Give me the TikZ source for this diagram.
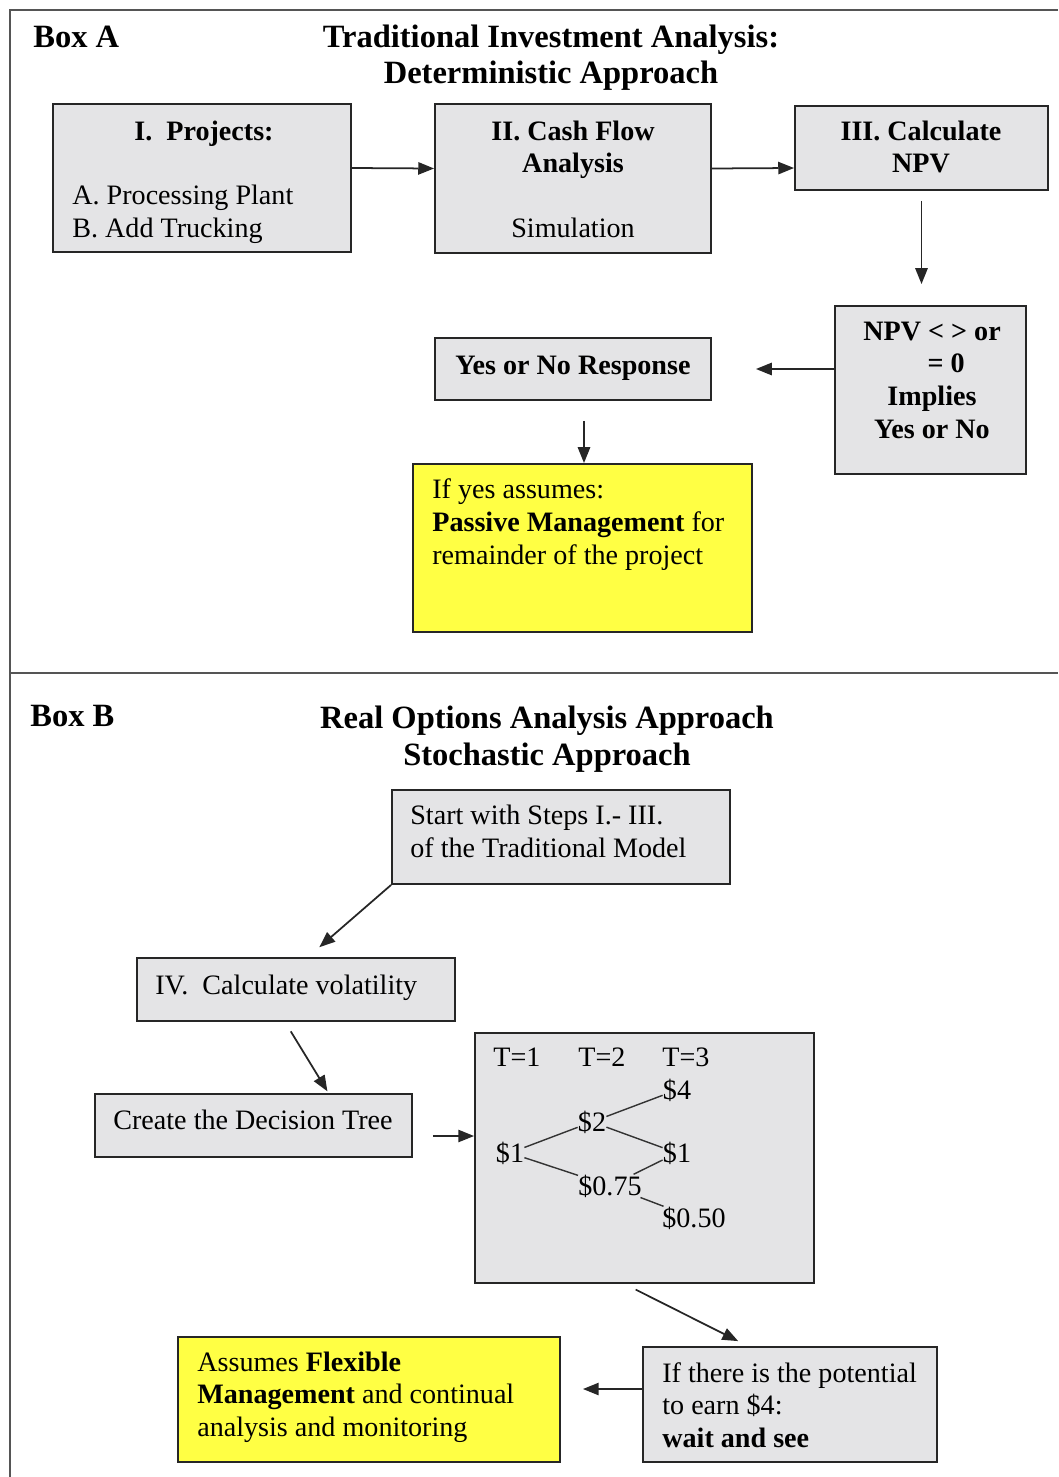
\documentclass[tikz,border=0pt]{standalone}
\usepackage{fontspec}
\setmainfont{Liberation Serif}
\usetikzlibrary{arrows.meta,positioning}
\definecolor{boxGray}   {RGB}{228,228,230}
\definecolor{noteYellow}{RGB}{255,255,68}
\definecolor{frameGray} {RGB}{85, 85, 85}
\newcommand{\bodyfont}{\fontsize{16}{18.5}\selectfont}
\newcommand{\headfont}{\fontsize{18.5}{20.5}\selectfont\bfseries}

\begin{document}
\begin{tikzpicture}[x=0.02cm,y=-0.02cm,
    gbox/.style={draw=black!85,line width=1.1pt,fill=boxGray,inner sep=0pt},
    ybox/.style={gbox,fill=noteYellow},
    txt/.style={font=\bodyfont,inner sep=0pt,align=left},
    btxt/.style={font=\bodyfont\bfseries,inner sep=0pt,align=center},
    htxt/.style={font=\headfont,inner sep=0pt,align=center},
    arr/.style={-{Triangle[length=9pt,width=7pt]},line width=1pt,black!85}]
        \useasboundingbox (0,0) rectangle (1058,1477);

        % frame
        \draw[frameGray,line width=1pt] (1058,10) -- (10,10) -- (10,1477);
        \draw[frameGray,line width=1pt] (10,673) -- (1058,673);

        % Box A
        \node[htxt,anchor=base west] (boxA) at (33,48) {Box A};
        \node[htxt,anchor=base] (titleA) at (551,84)
          {Traditional Investment Analysis:\\Deterministic Approach};

        \node[gbox,minimum width=5.96cm,minimum height=2.96cm] (proj) at (202,178) {};
        \node[btxt,anchor=base] (projHead) at (204,140) {I.~~Projects:};
        \node[txt,anchor=base west] (projList) at (72,237.5)
          {A. Processing Plant\\B. Add Trucking};

        \node[gbox,minimum width=5.52cm,minimum height=2.98cm] (cash) at (573,178.5) {};
        \node[btxt,anchor=base] (cashHead) at (573,173) {II. Cash Flow\\Analysis};
        \node[txt,anchor=base] (cashSim) at (573,237) {Simulation};

        \node[gbox,minimum width=5.06cm,minimum height=1.68cm] (npv) at (921.5,148) {};
        \node[btxt,anchor=base] (npvText) at (921,173) {III. Calculate\\NPV};

        \node[gbox,minimum width=3.82cm,minimum height=3.36cm] (npvq) at (930.5,390) {};
        \node[btxt,anchor=base] (npvqText) at (932,438)
          {NPV < > or\\\quad= 0\\Implies\\Yes or No};

        \node[gbox,minimum width=5.52cm,minimum height=1.24cm] (yesno) at (573,369) {};
        \node[btxt,anchor=base] (yesnoText) at (573,374) {Yes or No Response};

        \node[ybox,minimum width=6.78cm,minimum height=3.36cm] (passive) at (582.5,548) {};
        \node[txt,anchor=base west] (passiveText) at (432,564)
          {If yes assumes:\\\textbf{Passive Management} for\\remainder of the project};

        \draw[arr] ([yshift=0.2cm]proj.east) -- ([yshift=0.2cm]cash.west);
        \draw[arr] ([yshift=0.2cm]cash.east) -- ([yshift=-0.4cm]npv.west);
        \draw[arr,shorten <=0.2cm,shorten >=0.42cm] (npv.south) -- (npv.south |- npvq.north);
        \draw[arr,shorten >=0.88cm] (npvq.west |- yesno) -- (yesno);
        \draw[arr,shorten <=0.4cm] ([xshift=0.22cm]yesno.south)
          -- ([xshift=0.22cm]yesno.south |- passive.north);

        % Box B
        \node[htxt,anchor=base west] (boxB) at (30,726) {Box B};
        \node[htxt,anchor=base] (titleB) at (547,765)
          {Real Options Analysis Approach\\Stochastic Approach};

        \node[gbox,minimum width=6.76cm,minimum height=1.88cm] (start) at (561,837) {};
        \node[txt,anchor=base west] (startText) at (410,857)
          {Start with Steps I.- III.\\of the Traditional Model};

        \node[gbox,minimum width=6.36cm,minimum height=1.26cm] (vol) at (296,989.5) {};
        \node[txt,anchor=base west] (volText) at (155,994) {IV.~~Calculate volatility};

        \node[gbox,minimum width=6.34cm,minimum height=1.26cm] (create) at (253.5,1125.5) {};
        \node[txt,anchor=base west] (createText) at (113,1129) {Create the Decision Tree};

        \node[gbox,minimum width=6.78cm,minimum height=5.0cm] (tree) at (644.5,1158) {};
        \foreach \k/\x in {1/517,2/602,3/686}{
          \node[txt,anchor=base] (t\k) at (\x,1066) {T=\k};
        }
        \node[txt,anchor=base] (v1)   at (510,1162) {\$1};
        \node[txt,anchor=base] (v2)   at (592,1131) {\$2};
        \node[txt,anchor=base] (v4)   at (677,1099) {\$4};
        \node[txt,anchor=base] (v1b)  at (677,1162) {\$1};
        \node[txt,anchor=base] (v075) at (610,1195) {\$0.75};
        \node[txt,anchor=base] (v050) at (694,1227) {\$0.50};
        \foreach \a/\b in {v1/v2,v1/v075,v2/v4,v2/v1b,v075/v1b,v075/v050}{
          \draw[line width=0.8pt,black!80] (\a) -- (\b);
        }

        \node[gbox,minimum width=5.88cm,minimum height=2.3cm] (wait) at (790,1404.5) {};
        \node[txt,anchor=base west] (waitText) at (662,1447)
          {If there is the potential\\to earn \$4:\\\textbf{wait and see}};

        \node[ybox,minimum width=7.64cm,minimum height=2.5cm] (flex) at (369,1399.5) {};
        \node[txt,anchor=base west] (flexText) at (197,1436)
          {Assumes \textbf{Flexible}\\\textbf{Management} and continual\\analysis and monitoring};

        \draw[arr,shorten >=0.3cm] (start.south west) -- ([xshift=0.24cm]vol.north);
        \draw[arr,shorten <=0.22cm,shorten >=0.04cm] ([xshift=-0.22cm]vol.south)
          -- ([xshift=1.5cm]create.north);
        \draw[arr,shorten <=0.4cm] ([yshift=-0.21cm]create.east)
          -- ([yshift=-0.21cm]create.east -| tree.west);
        \draw[arr,shorten <=0.25cm,shorten >=0.22cm] ([xshift=-0.4cm]tree.south)
          -- ([xshift=-0.84cm]wait.north);
        \draw[arr,shorten >=0.44cm] ([yshift=0.31cm]wait.west)
          -- ([yshift=0.31cm]wait.west -| flex.east);
      \end{tikzpicture}
\end{document}
